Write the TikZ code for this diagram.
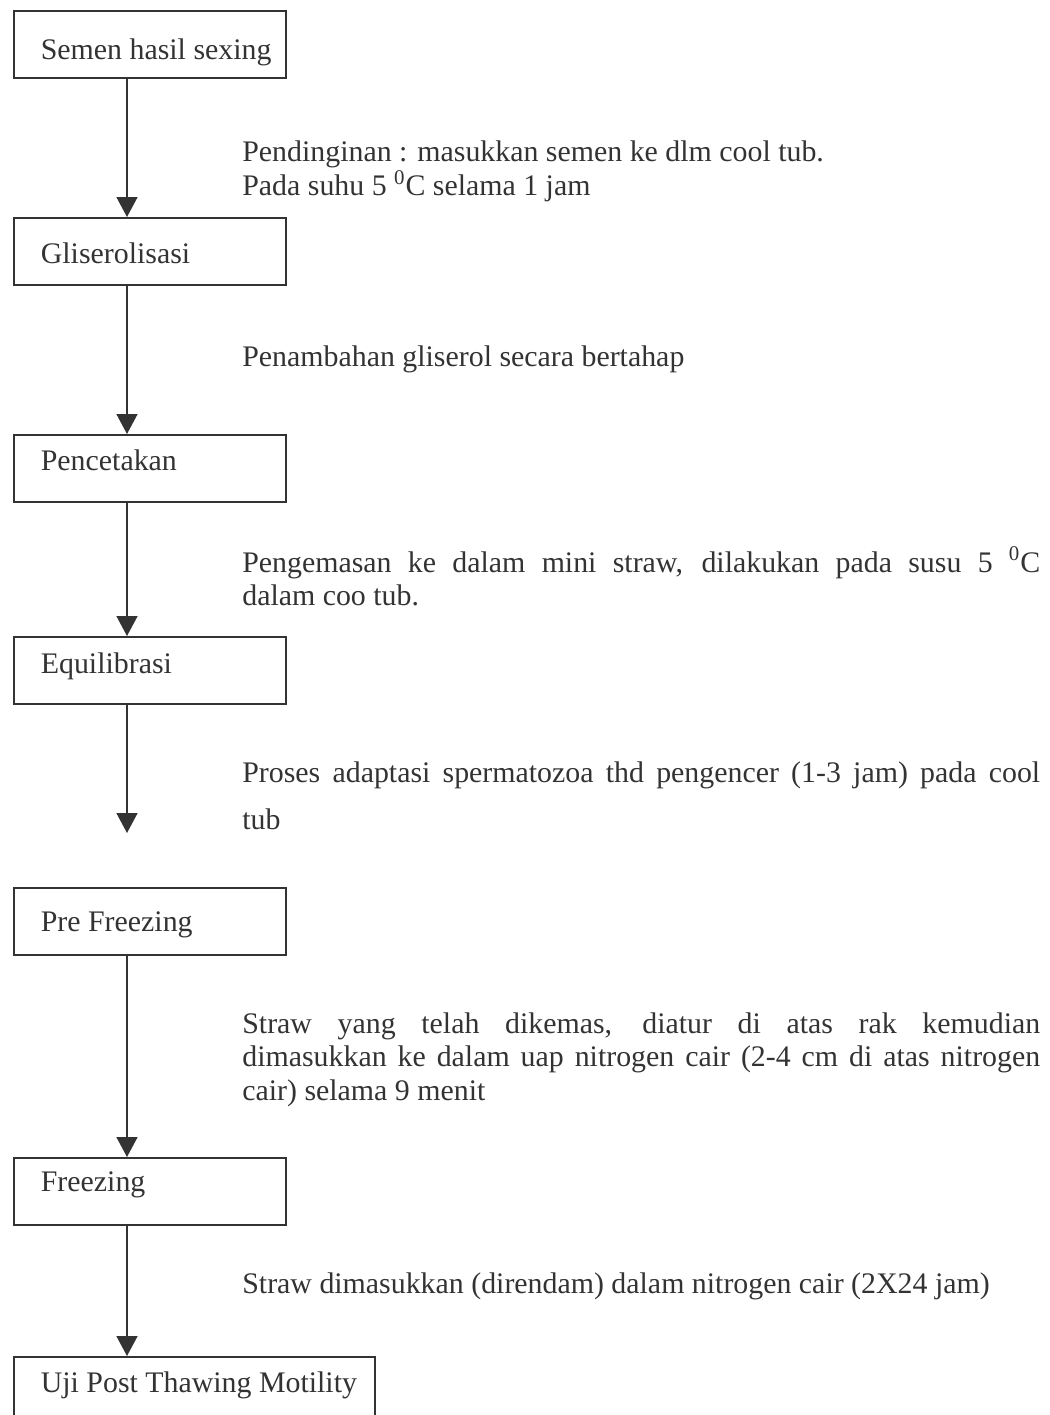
\documentclass[tikz,border=0pt]{standalone}
\usepackage{fontspec}
\setmainfont{Liberation Serif}
\usetikzlibrary{arrows.meta}

\begin{document}
\begin{tikzpicture}[x=0.02cm, y=-0.02cm,
  font=\fontsize{17pt}{19.3pt}\selectfont, color=black!80,
  stepbox/.style={draw, line width=1pt, anchor=north west, minimum height=1.34cm,
    inner xsep=0pt, inner ysep=0pt, text width=5.44cm, align=flush left, text height=0.64cm,
    execute at begin node=\hspace*{0.54cm}},
  note/.style={anchor=base west, inner sep=0pt, text width=15.96cm, align=justify},
  flow/.style={line width=0.9pt, -{Triangle[length=0.4cm, width=0.42cm]}}]

\useasboundingbox (0,0) rectangle (1049,1415);
\clip (0,0) rectangle (1049,1415);

% steps
\node[stepbox, text depth=0.02cm] (semen) at (13,10) {Semen hasil sexing};
\node[stepbox, text depth=0.14cm] (glis) at (13,217) {Gliserolisasi};
\node[stepbox, text depth=0.54cm] (cetak) at (13,434) {Pencetakan};
\node[stepbox, text depth=0.50cm] (equi) at (13,636) {Equilibrasi};
\node[stepbox, text depth=0.22cm] (pre) at (13,887) {Pre Freezing};
\node[stepbox, text depth=0.62cm] (freeze) at (13,1157) {Freezing};
\node[stepbox, text width=7.22cm, text depth=0.54cm] (uji) at (13,1356) {Uji Post Thawing Motility};

\coordinate (axis) at (127,0);
\coordinate (equiend) at (127,833);

\draw[flow] (semen.south -| axis) -- (glis.north -| axis);
\draw[flow] (glis.south -| axis) -- (cetak.north -| axis);
\draw[flow] (cetak.south -| axis) -- (equi.north -| axis);
\draw[flow] (equi.south -| axis) -- (equiend);
\draw[flow] (pre.south -| axis) -- (freeze.north -| axis);
\draw[flow] (freeze.south -| axis) -- (uji.north -| axis);

% notes
\node[note] (dingin) at (242,162) {Pendinginan : masukkan semen ke dlm cool tub.\\
  Pada suhu 5 \textsuperscript{0}C selama 1 jam};
\node[note] (gliserol) at (242,367) {Penambahan gliserol secara bertahap};
\node[note] (kemas) at (242,572) {Pengemasan ke dalam mini straw, dilakukan pada susu 5 \textsuperscript{0}C\linebreak
  dalam coo tub.};
\node[note] (adaptasi) at (242,782) {Proses adaptasi spermatozoa thd pengencer (1-3 jam) pada cool\vspace{7.9pt}\linebreak
  tub};
\node[note] (uap) at (242,1033) {Straw yang telah dikemas, diatur di atas rak kemudian\linebreak
  dimasukkan ke dalam uap nitrogen cair (2-4 cm di atas nitrogen\linebreak
  cair) selama 9 menit};
\node[note] (rendam) at (242,1293) {Straw dimasukkan (direndam) dalam nitrogen cair (2X24 jam)};
\end{tikzpicture}
\end{document}
